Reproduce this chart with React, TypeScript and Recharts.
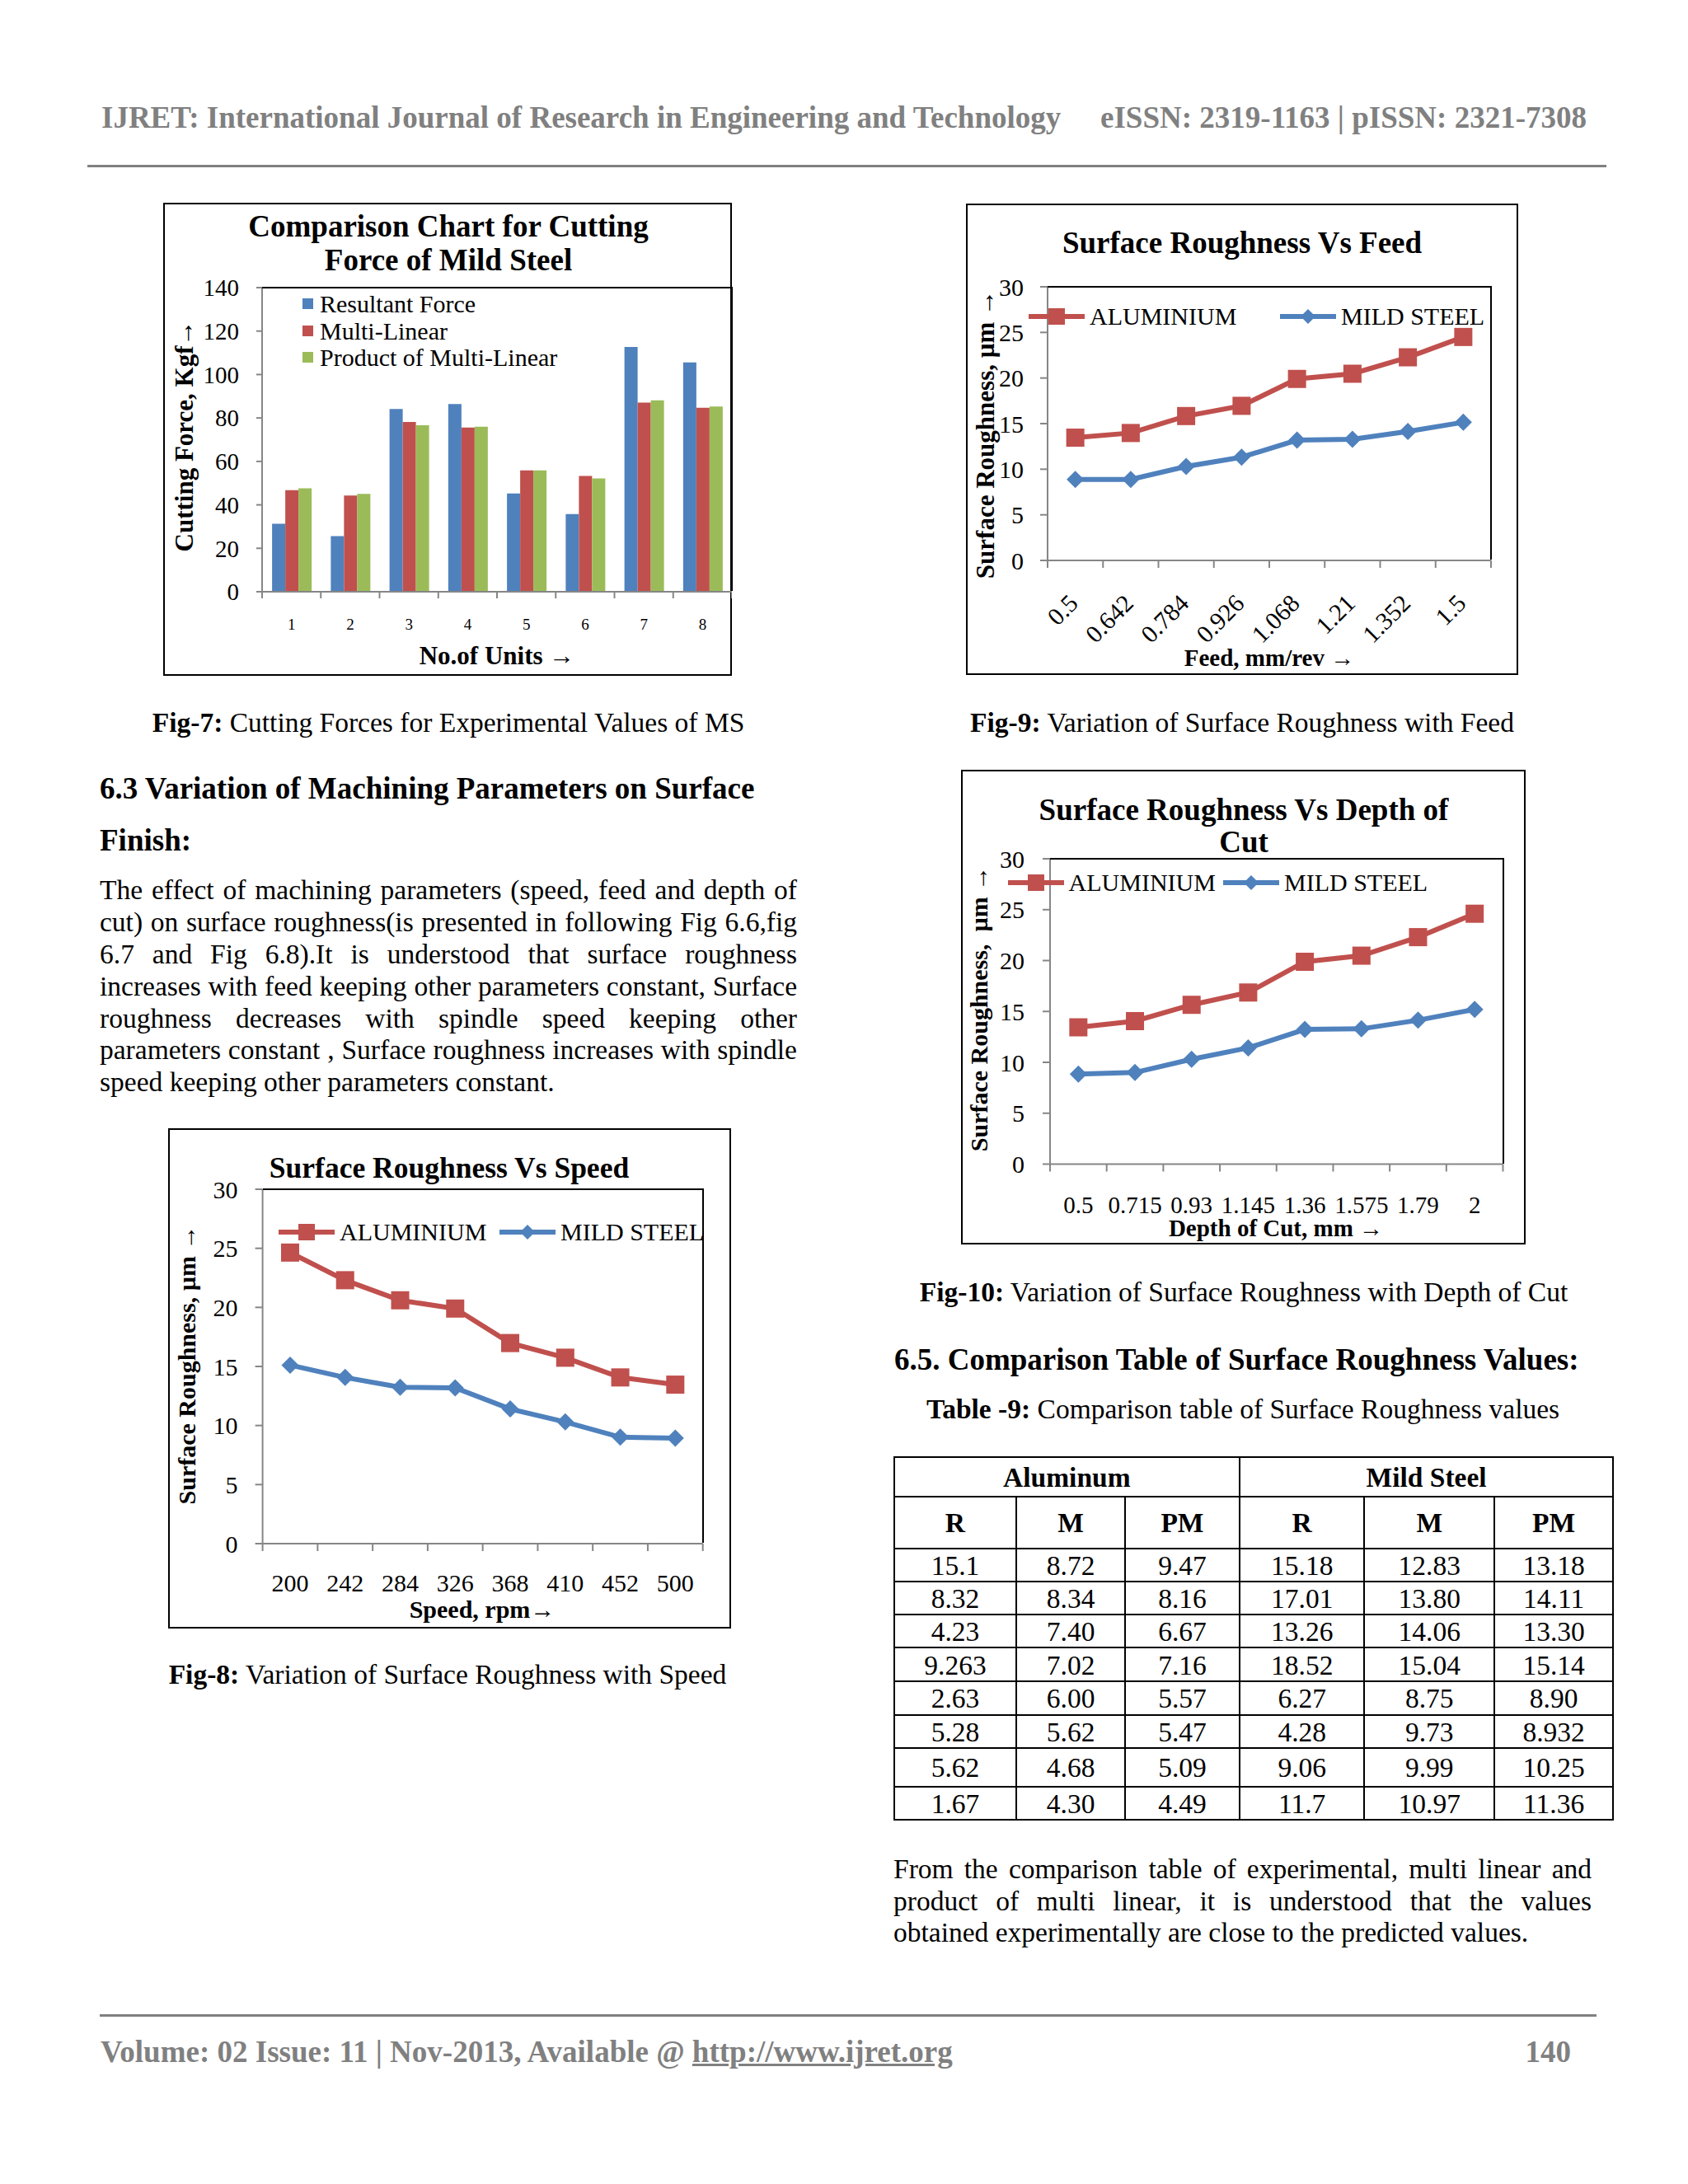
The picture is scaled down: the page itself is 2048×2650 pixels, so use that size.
import React from "react";
import { BarChart, Bar, LineChart, Line, XAxis, YAxis, Legend } from "recharts";

const SERIF = '"Liberation Serif", "Times New Roman", serif';
const RED = "#C0504D";
const BLUE = "#4F81BD";
const GREEN = "#9BBB59";
const AXIS_GRAY = "#868686";
const PAGE_GRAY = "#808080";

// Fig-7: cutting force per unit
const unitLabels = ["1", "2", "3", "4", "5", "6", "7", "8"];
const resultantForce = [31.3, 25.6, 84.1, 86.4, 45.2, 35.8, 112.7, 105.6];
const multiLinear = [46.8, 44.3, 78.2, 75.6, 55.9, 53.3, 87.1, 84.7];
const productMultiLinear = [47.6, 45.1, 76.6, 76.0, 55.9, 52.2, 88.1, 85.3];
const forceTicks = [0, 20, 40, 60, 80, 100, 120, 140];

// Fig-9: roughness vs feed
const feedLabels = ["0.5", "0.642", "0.784", "0.926", "1.068", "1.21", "1.352", "1.5"];
const feedAluminium = [13.46, 13.97, 15.83, 16.95, 19.9, 20.47, 22.27, 24.5];
const feedMildSteel = [8.88, 8.88, 10.3, 11.32, 13.19, 13.29, 14.14, 15.15];

// Fig-10: roughness vs depth of cut
const depthLabels = ["0.5", "0.715", "0.93", "1.145", "1.36", "1.575", "1.79", "2"];
const depthAluminium = [13.44, 14.05, 15.65, 16.86, 19.88, 20.48, 22.3, 24.6];
const depthMildSteel = [8.85, 9.0, 10.3, 11.42, 13.23, 13.29, 14.14, 15.2];

// Fig-8: roughness vs speed
const speedLabels = ["200", "242", "284", "326", "368", "410", "452", "500"];
const speedAluminium = [24.64, 22.3, 20.6, 19.9, 16.98, 15.74, 14.07, 13.46];
const speedMildSteel = [15.11, 14.07, 13.24, 13.19, 11.4, 10.3, 9.01, 8.93];

const roughTicks = [0, 5, 10, 15, 20, 25, 30];

// Table -9
const tableAlR = ["15.1", "8.32", "4.23", "9.263", "2.63", "5.28", "5.62", "1.67"];
const tableAlM = ["8.72", "8.34", "7.40", "7.02", "6.00", "5.62", "4.68", "4.30"];
const tableAlPM = ["9.47", "8.16", "6.67", "7.16", "5.57", "5.47", "5.09", "4.49"];
const tableMsR = ["15.18", "17.01", "13.26", "18.52", "6.27", "4.28", "9.06", "11.7"];
const tableMsM = ["12.83", "13.80", "14.06", "15.04", "8.75", "9.73", "9.99", "10.97"];
const tableMsPM = ["13.18", "14.11", "13.30", "15.14", "8.90", "8.932", "10.25", "11.36"];

const leftParagraph = [
  "The effect of machining parameters (speed, feed and depth of",
  "cut) on surface roughness(is presented in following Fig 6.6,fig",
  "6.7 and Fig 6.8).It is understood that surface roughness",
  "increases with feed keeping other parameters constant, Surface",
  "roughness decreases with spindle speed keeping other",
  "parameters constant , Surface roughness increases with spindle",
  "speed keeping other parameters constant.",
];
const rightParagraph = [
  "From the comparison table of experimental, multi linear and",
  "product of multi linear, it is understood that the values",
  "obtained experimentally are close to the predicted values.",
];

function Txt({ x, y, size = 33.5, bold = false, align = "left", color = "#000", children, style }: any) {
  const lh = size * 1.2;
  const tx = align === "center" ? "translateX(-50%)" : align === "right" ? "translateX(-100%)" : "none";
  return (
    <div
      style={{
        position: "absolute", left: x, top: y - lh / 2, fontSize: size, lineHeight: `${lh}px`,
        fontWeight: bold ? 700 : 400, color, whiteSpace: "nowrap", transform: tx, fontFamily: SERIF, ...style,
      }}
    >
      {children}
    </div>
  );
}

function VTxt({ x, y, size, children }: any) {
  return (
    <div
      style={{
        position: "absolute", left: x, top: y, transform: "translate(-50%, -50%) rotate(-90deg)",
        fontSize: size, fontWeight: 700, whiteSpace: "pre", lineHeight: 1.2, fontFamily: SERIF,
      }}
    >
      {children}
    </div>
  );
}

function JustLine({ x, y, width, last, children }: any) {
  const size = 33.5;
  const lh = size * 1.2;
  return (
    <div
      style={{
        position: "absolute", left: x, top: y - lh / 2, width, fontSize: size, lineHeight: `${lh}px`,
        textAlign: last ? "left" : "justify", textAlignLast: last ? "left" : "justify",
        whiteSpace: "nowrap", fontFamily: SERIF, color: "#000",
      }}
    >
      {children}
    </div>
  );
}

// category tick: label at band centre, tick marks on band boundaries (Excel style)
function makeCatTick(band: number, n: number, tickLen: number, labelDy: number, fontSize: number, rotate: boolean) {
  return (props: any) => {
    const { x, y, payload, index } = props;
    const ax = x + 5;
    const ay = y + 54;
    return (
      <g>
        <line x1={x - band / 2} x2={x - band / 2} y1={y} y2={y + tickLen} stroke={AXIS_GRAY} strokeWidth={2} />
        {index === n - 1 && (
          <line x1={x + band / 2} x2={x + band / 2} y1={y} y2={y + tickLen} stroke={AXIS_GRAY} strokeWidth={2} />
        )}
        {rotate ? (
          <text x={ax} y={ay} transform={`rotate(-45, ${ax}, ${ay})`} textAnchor="end" fontSize={fontSize} fontFamily={SERIF} fill="#000">
            {payload.value}
          </text>
        ) : (
          <text x={x} y={y + labelDy} dy="0.35em" textAnchor="middle" fontSize={fontSize} fontFamily={SERIF} fill="#000">
            {payload.value}
          </text>
        )}
      </g>
    );
  };
}

function squareDot(size: number, color: string) {
  return (p: any) => (
    <rect key={`sq-${p.index}`} x={p.cx - size / 2} y={p.cy - size / 2} width={size} height={size} fill={color} />
  );
}
function diamondDot(r: number, color: string) {
  return (p: any) => (
    <polygon
      key={`dm-${p.index}`}
      points={`${p.cx},${p.cy - r} ${p.cx + r},${p.cy} ${p.cx},${p.cy + r} ${p.cx - r},${p.cy}`}
      fill={color}
    />
  );
}

// keep legend entries in series order (Legend sorts by name otherwise)
function inOrder(payload: any[], keys: string[]) {
  return [...(payload || [])].sort((a, b) => keys.indexOf(a.dataKey) - keys.indexOf(b.dataKey));
}

function makeLineLegend(xs: number[]) {
  return (props: any) => {
    const payload = inOrder(props.payload, ["al", "ms"]);
    return (
      <div style={{ position: "relative", height: 40 }}>
        {payload.map((p: any, i: number) => (
          <div key={i} style={{ position: "absolute", left: xs[i], top: 0, height: 40, display: "flex", alignItems: "center" }}>
            <svg width={68} height={40}>
              <line x1={0} x2={68} y1={20} y2={20} stroke={p.color} strokeWidth={6} />
              {p.dataKey === "al" ? (
                <rect x={24} y={10} width={20} height={20} fill={p.color} />
              ) : (
                <polygon points="34,11 43,20 34,29 25,20" fill={p.color} />
              )}
            </svg>
            <span style={{ marginLeft: 6, fontSize: 30, lineHeight: "40px", fontFamily: SERIF, color: "#000" }}>{p.value}</span>
          </div>
        ))}
      </div>
    );
  };
}

function barLegend(props: any) {
  const payload = inOrder(props.payload, ["resultant", "multi", "product"]);
  return (
    <div style={{ position: "relative" }}>
      {payload.map((p: any, i: number) => (
        <div key={i} style={{ position: "absolute", left: 0, top: i * 32.5, height: 33, display: "flex", alignItems: "center" }}>
          <div style={{ width: 13, height: 13, background: p.color }} />
          <span style={{ marginLeft: 8, fontSize: 30, lineHeight: "33px", fontFamily: SERIF, color: "#000" }}>{p.value}</span>
        </div>
      ))}
    </div>
  );
}

function PlotFrame({ left, top, width, height }: any) {
  return (
    <div
      style={{
        position: "absolute", left, top: top - 1, width: width + 1, height,
        borderTop: "2px solid #000", borderRight: "2px solid #000", boxSizing: "border-box", pointerEvents: "none",
      }}
    />
  );
}

function ChartBox({ box }: any) {
  return (
    <div
      style={{
        position: "absolute", left: box.left, top: box.top, width: box.width, height: box.height,
        border: "2px solid #000", boxSizing: "border-box",
      }}
    />
  );
}

function ForceChart() {
  const box = { left: 198, top: 246, width: 690, height: 574 };
  const plot = { left: 120, top: 103, right: 690, bottom: 472 };
  const band = (plot.right - plot.left) / unitLabels.length;
  const data = unitLabels.map((u, i) => ({
    unit: u, resultant: resultantForce[i], multi: multiLinear[i], product: productMultiLinear[i],
  }));
  return (
    <>
      <ChartBox box={box} />
      <div style={{ position: "absolute", left: box.left, top: box.top }}>
        <BarChart
          width={box.width}
          height={box.height}
          data={data}
          margin={{ top: plot.top, right: box.width - plot.right, bottom: 0, left: 0 }}
          barCategoryGap="17%"
          barGap={0}
        >
          <XAxis
            dataKey="unit"
            height={box.height - plot.bottom}
            interval={0}
            tickSize={0}
            tickMargin={0}
            tickLine={false}
            axisLine={{ stroke: AXIS_GRAY, strokeWidth: 2 }}
            tick={makeCatTick(band, unitLabels.length, 8, 39, 19, false)}
          />
          <YAxis
            type="number"
            domain={[0, 140]}
            ticks={forceTicks}
            interval={0}
            width={plot.left}
            tickSize={7}
            tickMargin={21}
            axisLine={{ stroke: AXIS_GRAY, strokeWidth: 2 }}
            tickLine={{ stroke: AXIS_GRAY, strokeWidth: 2 }}
            tick={{ fill: "#000", fontSize: 29, fontFamily: SERIF }}
          />
          <Legend
            verticalAlign="middle"
            align="center"
            layout="horizontal"
            wrapperStyle={{ left: 169, top: 106, width: 400, height: 100 }}
            content={barLegend}
          />
          <Bar dataKey="resultant" name="Resultant Force" fill={BLUE} isAnimationActive={false} />
          <Bar dataKey="multi" name="Multi-Linear" fill={RED} isAnimationActive={false} />
          <Bar dataKey="product" name="Product of Multi-Linear" fill={GREEN} isAnimationActive={false} />
        </BarChart>
      </div>
      <PlotFrame left={box.left + plot.left} top={box.top + plot.top} width={plot.right - plot.left} height={plot.bottom - plot.top} />
      <Txt x={544} y={275} size={37} bold align="center">Comparison Chart for Cutting</Txt>
      <Txt x={544} y={316} size={37} bold align="center">Force of Mild Steel</Txt>
      <VTxt x={224} y={529} size={31}>Cutting Force, Kgf→</VTxt>
      <Txt x={603} y={796} size={31} bold align="center">No.of Units →</Txt>
    </>
  );
}

function RoughnessChart({ cfg }: any) {
  const { box, plot, labels, al, ms } = cfg;
  const band = (plot.right - plot.left) / labels.length;
  const data = labels.map((l: string, i: number) => ({ label: l, al: al[i], ms: ms[i] }));
  return (
    <>
      <ChartBox box={box} />
      <div style={{ position: "absolute", left: box.left, top: box.top }}>
        <LineChart
          width={box.width}
          height={box.height}
          data={data}
          margin={{ top: plot.top, right: box.width - plot.right, bottom: 0, left: 0 }}
        >
          <XAxis
            dataKey="label"
            scale="point"
            padding={{ left: band / 2, right: band / 2 }}
            height={box.height - plot.bottom}
            interval={0}
            tickSize={0}
            tickMargin={0}
            tickLine={false}
            axisLine={{ stroke: AXIS_GRAY, strokeWidth: 2 }}
            tick={makeCatTick(band, labels.length, 9, cfg.xLabelDy, cfg.xTickFont, cfg.rotate)}
          />
          <YAxis
            type="number"
            domain={[0, 30]}
            ticks={roughTicks}
            interval={0}
            width={plot.left}
            tickSize={9}
            tickMargin={cfg.yTickMargin}
            axisLine={{ stroke: AXIS_GRAY, strokeWidth: 2 }}
            tickLine={{ stroke: AXIS_GRAY, strokeWidth: 2 }}
            tick={{ fill: "#000", fontSize: 30, fontFamily: SERIF }}
          />
          <Legend
            verticalAlign="middle"
            align="center"
            layout="horizontal"
            wrapperStyle={{ left: 0, top: cfg.legendY - 20, width: box.width, height: 40 }}
            content={makeLineLegend(cfg.legendXs)}
          />
          <Line
            type="linear"
            dataKey="al"
            name="ALUMINIUM"
            stroke={RED}
            strokeWidth={6}
            dot={squareDot(22, RED)}
            activeDot={false}
            isAnimationActive={false}
          />
          <Line
            type="linear"
            dataKey="ms"
            name="MILD STEEL"
            stroke={BLUE}
            strokeWidth={6}
            dot={diamondDot(10.5, BLUE)}
            activeDot={false}
            isAnimationActive={false}
          />
        </LineChart>
      </div>
      <PlotFrame left={box.left + plot.left} top={box.top + plot.top} width={plot.right - plot.left} height={plot.bottom - plot.top} />
      {cfg.titles.map((t: any, i: number) => (
        <Txt key={i} x={t[1]} y={t[2]} size={cfg.titleSize} bold align="center">{t[0]}</Txt>
      ))}
      <VTxt x={cfg.yTitle[1]} y={cfg.yTitle[2]} size={cfg.yTitle[3]}>{cfg.yTitle[0]}</VTxt>
      <Txt x={cfg.xTitle[1]} y={cfg.xTitle[2]} size={cfg.xTitle[3]} bold align="center">{cfg.xTitle[0]}</Txt>
    </>
  );
}

const feedCfg = {
  box: { left: 1172, top: 247, width: 670, height: 572 },
  plot: { left: 99, top: 101, right: 637, bottom: 433 },
  labels: feedLabels, al: feedAluminium, ms: feedMildSteel,
  yTickMargin: 20, xLabelDy: 50, xTickFont: 30, rotate: true,
  legendY: 137, legendXs: [76, 381],
  titleSize: 37,
  titles: [["Surface Roughness Vs Feed", 1507, 295]],
  yTitle: ["Surface Roughness, µm →", 1196, 527, 31],
  xTitle: ["Feed, mm/rev →", 1540, 798, 29],
};

const depthCfg = {
  box: { left: 1166, top: 934, width: 685, height: 576 },
  plot: { left: 108, top: 108, right: 657.5, bottom: 478.5 },
  labels: depthLabels, al: depthAluminium, ms: depthMildSteel,
  yTickMargin: 22, xLabelDy: 49.5, xTickFont: 29, rotate: false,
  legendY: 137, legendXs: [56.6, 318],
  titleSize: 37,
  titles: [["Surface Roughness Vs Depth of", 1509, 983], ["Cut", 1509, 1022]],
  yTitle: ["Surface Roughness,  µm →", 1188, 1224, 30],
  xTitle: ["Depth of Cut, mm →", 1548, 1490, 29],
};

const speedCfg = {
  box: { left: 204, top: 1369, width: 683, height: 607 },
  plot: { left: 114.6, top: 74, right: 648.7, bottom: 504 },
  labels: speedLabels, al: speedAluminium, ms: speedMildSteel,
  yTickMargin: 21, xLabelDy: 47, xTickFont: 30, rotate: false,
  legendY: 126, legendXs: [134, 402],
  titleSize: 35.5,
  titles: [["Surface Roughness Vs Speed", 545, 1417]],
  yTitle: ["Surface Roughness, µm →", 226.5, 1656, 30],
  xTitle: ["Speed, rpm→", 585, 1953, 30],
};

function RoughnessTable() {
  const colEdges = [1084.5, 1233.4, 1364.8, 1504.1, 1655.3, 1813.2, 1957];
  const rowEdges = [1768, 1816, 1879, 1919, 1959.3, 1999.3, 2040, 2080.7, 2120.7, 2168.3, 2208.3];
  const cols = [tableAlR, tableAlM, tableAlPM, tableMsR, tableMsM, tableMsPM];
  const heads = ["R", "M", "PM", "R", "M", "PM"];
  const top = rowEdges[0];
  const bottom = rowEdges[rowEdges.length - 1];
  const lines: any[] = [];
  rowEdges.forEach((y, i) => {
    lines.push(<div key={`h${i}`} style={{ position: "absolute", left: colEdges[0] - 1, top: y - 1, width: colEdges[6] - colEdges[0] + 2, height: 2, background: "#000" }} />);
  });
  colEdges.forEach((x, i) => {
    const spanTop = i === 0 || i === 3 || i === 6 ? top : rowEdges[1];
    lines.push(<div key={`v${i}`} style={{ position: "absolute", left: x - 1, top: spanTop - 1, width: 2, height: bottom - spanTop + 2, background: "#000" }} />);
  });
  const cx = (c: number) => (colEdges[c] + colEdges[c + 1]) / 2;
  const cy = (r: number) => (rowEdges[r] + rowEdges[r + 1]) / 2;
  return (
    <>
      {lines}
      <Txt x={(colEdges[0] + colEdges[3]) / 2} y={cy(0) + 1} bold align="center">Aluminum</Txt>
      <Txt x={(colEdges[3] + colEdges[6]) / 2} y={cy(0) + 1} bold align="center">Mild Steel</Txt>
      {heads.map((h, c) => (
        <Txt key={`hd${c}`} x={cx(c)} y={cy(1) + 1} bold align="center">{h}</Txt>
      ))}
      {cols.map((col, c) =>
        col.map((v, r) => (
          <Txt key={`c${c}-${r}`} x={cx(c)} y={cy(r + 2) + 1} align="center">{v}</Txt>
        ))
      )}
    </>
  );
}

export default function App() {
  return (
    <div
      style={{
        position: "absolute", left: 0, top: 0, width: 2048, height: 2650, background: "#fff",
        fontFamily: SERIF, overflow: "hidden",
      }}
    >
      {/* running header */}
      <Txt x={123} y={143} size={37} bold color={PAGE_GRAY}>IJRET: International Journal of Research in Engineering and Technology</Txt>
      <Txt x={1925} y={143} size={37} bold color={PAGE_GRAY} align="right">eISSN: 2319-1163 | pISSN: 2321-7308</Txt>
      <div style={{ position: "absolute", left: 106, top: 200, width: 1843, height: 3, background: PAGE_GRAY }} />

      <ForceChart />
      <Txt x={544} y={877} align="center"><b>Fig-7:</b> Cutting Forces for Experimental Values of MS</Txt>

      <RoughnessChart cfg={feedCfg} />
      <Txt x={1507} y={877} align="center"><b>Fig-9:</b> Variation of Surface Roughness with Feed</Txt>

      <Txt x={121} y={957} size={37} bold>6.3 Variation of Machining Parameters on Surface</Txt>
      <Txt x={121} y={1020} size={37} bold>Finish:</Txt>
      {leftParagraph.map((l, i) => (
        <JustLine key={i} x={121} y={1080 + i * 38.9} width={846} last={i === leftParagraph.length - 1}>{l}</JustLine>
      ))}

      <RoughnessChart cfg={depthCfg} />
      <Txt x={1509} y={1568} align="center"><b>Fig-10:</b> Variation of Surface Roughness with Depth of Cut</Txt>

      <RoughnessChart cfg={speedCfg} />
      <Txt x={543} y={2032} align="center"><b>Fig-8:</b> Variation of Surface Roughness with Speed</Txt>

      <Txt x={1085} y={1650} size={37} bold>6.5. Comparison Table of Surface Roughness Values:</Txt>
      <Txt x={1508} y={1710} align="center"><b>Table -9:</b> Comparison table of Surface Roughness values</Txt>
      <RoughnessTable />
      {rightParagraph.map((l, i) => (
        <JustLine key={i} x={1084} y={2268 + i * 38.7} width={847} last={i === rightParagraph.length - 1}>{l}</JustLine>
      ))}

      {/* running footer */}
      <div style={{ position: "absolute", left: 121, top: 2444, width: 1816, height: 3, background: PAGE_GRAY }} />
      <Txt x={122} y={2490} size={37} bold color={PAGE_GRAY}>
        Volume: 02 Issue: 11 | Nov-2013, Available @ <span style={{ textDecoration: "underline" }}>http://www.ijret.org</span>
      </Txt>
      <Txt x={1906} y={2490} size={37} bold color={PAGE_GRAY} align="right">140</Txt>
    </div>
  );
}
